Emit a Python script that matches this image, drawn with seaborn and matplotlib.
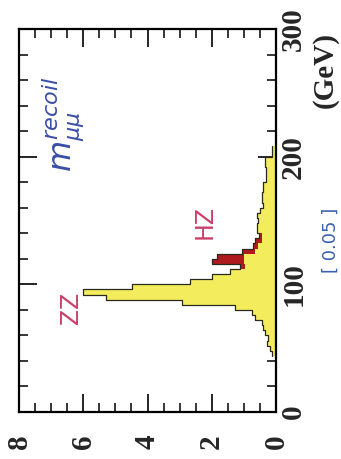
import numpy as np
import pandas as pd
import matplotlib
matplotlib.use("Agg")
import matplotlib.pyplot as plt
import seaborn as sns
from matplotlib.ticker import MultipleLocator

# Recoil mass histogram, 4 GeV bins from 44 to 208 GeV
bin_edges = list(range(44, 212, 4))
mass_centers = [e + 2 for e in bin_edges[:-1]]

zz_events = [0.125, 0.19, 0.28, 0.25, 0.34, 0.41, 0.44, 0.66, 0.75, 1.28,
             2.94, 5.28, 6.0, 4.47, 2.69, 2.0, 1.44, 0.95, 1.0, 1.0,
             0.66, 0.56, 0.44, 0.44, 0.56, 0.6, 0.56, 0.6, 0.5, 0.4,
             0.44, 0.44, 0.4, 0.4, 0.31, 0.31, 0.31, 0.34, 0.34, 0.125,
             0.125]
hz_events = [0, 0, 0, 0, 0, 0, 0, 0, 0, 0,
             0, 0, 0, 0, 0, 0, 0, 0.17, 1.0, 0.85,
             0.4, 0.16, 0.22, 0.09, 0.04, 0, 0, 0, 0, 0,
             0, 0, 0, 0, 0, 0, 0, 0, 0, 0,
             0]

mass_ticks = [0, 100, 200, 300]
count_ticks = [0, 2, 4, 6, 8]

df = pd.DataFrame({
    "mass": mass_centers,
    "zz": zz_events,
    "total": np.add(zz_events, hz_events),
})

sns.set_style("ticks")
plt.rcParams["font.family"] = ["DejaVu Sans"]

W, H = 341, 459
fig = plt.figure(figsize=(W / 100, H / 100), dpi=100)
fig.patch.set_facecolor("white")
ax = fig.add_axes([19 / W, 1 - 412 / H, 257 / W, 383 / H])

yellow = "#f3ed5e"
red = "#b01a1e"
edge = "#2a2a1a"

# HZ stacked on ZZ: total in red, ZZ in yellow over it, then the outline
sns.histplot(data=df, y="mass", weights="total", bins=bin_edges,
             element="step", fill=True, color=red, alpha=1,
             linewidth=0, ax=ax)
sns.histplot(data=df, y="mass", weights="zz", bins=bin_edges,
             element="step", fill=True, color=yellow, alpha=1,
             linewidth=0, ax=ax)
sns.histplot(data=df, y="mass", weights="total", bins=bin_edges,
             element="step", fill=False, color=edge,
             linewidth=0.9, ax=ax)

ax.set_xlim(8, 0)
ax.set_ylim(0, 300)
ax.set_xlabel("")
ax.set_ylabel("")

ax.xaxis.set_minor_locator(MultipleLocator(0.5))
ax.yaxis.set_minor_locator(MultipleLocator(20))
ax.set_xticks(count_ticks)
ax.set_yticks(mass_ticks)

for s in ax.spines.values():
    s.set_linewidth(1.6)
    s.set_color("black")
    s.set_zorder(5)

ax.tick_params(which="both", direction="in", top=True, bottom=True,
               left=True, right=True, color="black", zorder=6)
ax.tick_params(which="major", length=13, width=1.2)
ax.tick_params(which="minor", length=6.5, width=1.1)
ax.tick_params(axis="y", labelleft=False, labelright=True, pad=3)
ax.tick_params(axis="x", labelbottom=True, labeltop=False, pad=16)

lab_font = dict(family="Liberation Serif", weight="bold", size=21)
ax.set_xticklabels([str(v) for v in count_ticks], rotation=90,
                   ha="center", va="top", **lab_font)
ax.set_yticklabels([str(v) for v in mass_ticks], rotation=90,
                   ha="left", va="center", **lab_font)

def fx(px):
    return px / W

def fy(py):
    return 1 - py / H

fig.text(fx(325), fy(70), "(GeV)", rotation=90, ha="center", va="center",
         **lab_font)
fig.text(fx(71), fy(308), "ZZ", rotation=90, ha="center", va="center",
         color="#c8406a", fontsize=17)
fig.text(fx(205), fy(222), "HZ", rotation=90, ha="center", va="center",
         color="#c8406a", fontsize=17)
fig.text(fx(63), fy(124), r"$m_{\mu\mu}^{recoil}$", rotation=90,
         ha="center", va="center", color="#3a4ea6", fontsize=23)
fig.text(fx(331), fy(240), "[ 0.05 ]", rotation=90, ha="center",
         va="center", color="#3a5fb0", fontsize=13)

fig.savefig("out.png", dpi=100, facecolor="white")
